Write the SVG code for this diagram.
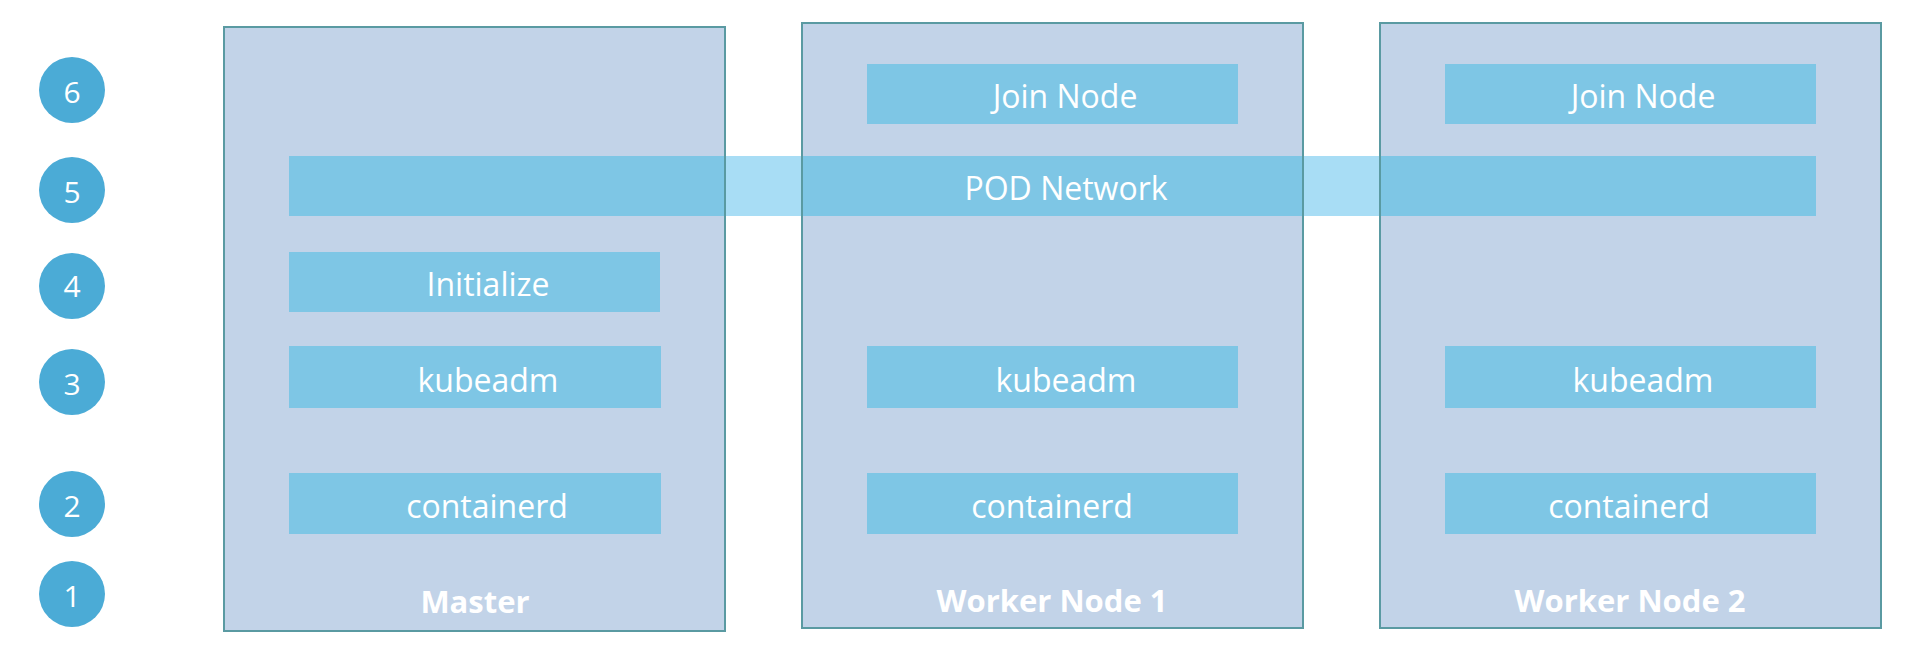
<svg xmlns="http://www.w3.org/2000/svg" width="1920" height="666" viewBox="0 0 1920 666">
<style>
.host{fill:#C2D3E8;stroke:#5A9AA2;stroke-width:2}
.comp{fill:#7EC6E5}
.net{fill:#A8DDF5}
.step{fill:#4BABD6}
.t{font-family:"Open Sans","Noto Sans",sans-serif;font-size:32px;fill:#FFFFFF;text-anchor:middle}
.b{font-weight:bold;font-size:31px}
.n{font-size:30px}
</style>
<rect width="1920" height="666" fill="#FFFFFF"/>
<g id="steps">
<circle class="step" cx="72" cy="90" r="33"/><text class="t n" x="72" y="103">6</text>
<circle class="step" cx="72" cy="190" r="33"/><text class="t n" x="72" y="203">5</text>
<circle class="step" cx="72" cy="286" r="33"/><text class="t n" x="72" y="297">4</text>
<circle class="step" cx="72" cy="382" r="33"/><text class="t n" x="72" y="395">3</text>
<circle class="step" cx="72" cy="504" r="33"/><text class="t n" x="72" y="517">2</text>
<circle class="step" cx="72" cy="594" r="33"/><text class="t n" x="72" y="607">1</text>
</g>
<g id="pod-network-bg">
<rect class="net" x="289" y="156" width="1527" height="60"/>
</g>
<g id="master">
<rect class="host" x="224" y="27" width="501" height="604"/>
<rect class="comp" x="289" y="252" width="371" height="60"/>
<text class="t" x="488" y="296">Initialize</text>
<rect class="comp" x="289" y="346" width="372" height="62"/>
<text class="t" x="488" y="392">kubeadm</text>
<rect class="comp" x="289" y="473" width="372" height="61"/>
<text class="t" x="487" y="518">containerd</text>
<text class="t b" x="475" y="613">Master</text>
</g>
<g id="worker1">
<rect class="host" x="802" y="23" width="501" height="605"/>
<rect class="comp" x="867" y="64" width="371" height="60"/>
<text class="t" x="1065" y="108">Join Node</text>
<rect class="comp" x="867" y="346" width="371" height="62"/>
<text class="t" x="1066" y="392">kubeadm</text>
<rect class="comp" x="867" y="473" width="371" height="61"/>
<text class="t" x="1052" y="518">containerd</text>
<text class="t b" x="1052" y="612">Worker Node 1</text>
</g>
<g id="worker2">
<rect class="host" x="1380" y="23" width="501" height="605"/>
<rect class="comp" x="1445" y="64" width="371" height="60"/>
<text class="t" x="1643" y="108">Join Node</text>
<rect class="comp" x="1445" y="346" width="371" height="62"/>
<text class="t" x="1643" y="392">kubeadm</text>
<rect class="comp" x="1445" y="473" width="371" height="61"/>
<text class="t" x="1629" y="518">containerd</text>
<text class="t b" x="1630" y="612">Worker Node 2</text>
</g>
<g id="pod-network">
<rect class="comp" x="289" y="156" width="435" height="60"/>
<rect class="comp" x="803" y="156" width="499" height="60"/>
<rect class="comp" x="1381" y="156" width="435" height="60"/>
<line x1="725" y1="156" x2="725" y2="216" stroke="#5A9AA2" stroke-width="2"/>
<line x1="802" y1="156" x2="802" y2="216" stroke="#5A9AA2" stroke-width="2"/>
<line x1="1303" y1="156" x2="1303" y2="216" stroke="#5A9AA2" stroke-width="2"/>
<line x1="1380" y1="156" x2="1380" y2="216" stroke="#5A9AA2" stroke-width="2"/>
<text class="t" x="1066" y="200">POD Network</text>
</g>
<g id="connectors"/>
</svg>
